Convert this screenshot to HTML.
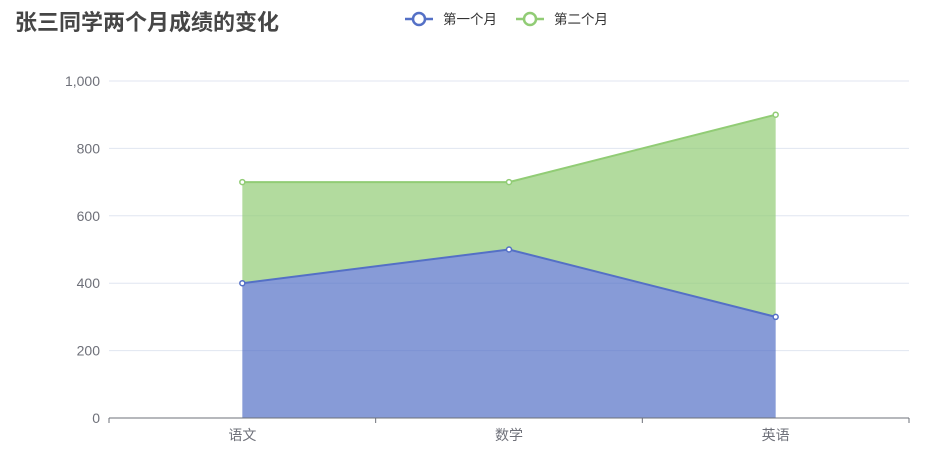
<!DOCTYPE html>
<html><head><meta charset="utf-8">
<style>
body{margin:0;background:#fff;}
svg text{font-family:"Liberation Sans","Noto Sans CJK SC",sans-serif;}
</style></head>
<body>
<svg id="c" width="947" height="460" xmlns="http://www.w3.org/2000/svg">
<text x="15" y="30" font-size="22" font-weight="bold" fill="#464646">张三同学两个月成绩的变化</text>
<g>
<g>
<line x1="405" y1="19" x2="433" y2="19" stroke="#5470c6" stroke-width="2.5"/>
<circle cx="419" cy="19" r="6" fill="#fff" stroke="#5470c6" stroke-width="2.5"/>
<text x="443" y="24" font-size="13.5" fill="#333">第一个月</text></g>
<g>
<line x1="516" y1="19" x2="544" y2="19" stroke="#91cc75" stroke-width="2.5"/>
<circle cx="530" cy="19" r="6" fill="#fff" stroke="#91cc75" stroke-width="2.5"/>
<text x="554" y="24" font-size="13.5" fill="#333">第二个月</text></g>
</g>
<g id="grid"></g>
<g id="areas"></g>
<g id="axes"></g>
</svg>
<script>
const categories=["语文","数学","英语"];
const month1=[400,500,300];
const month2=[300,200,600];
const yTicks=[0,200,400,600,800,1000];
const yTickLabels=["0","200","400","600","800","1,000"];

const NS="http://www.w3.org/2000/svg";
const L=109,R=909,T=81,B=418,yMax=1000;
const band=(R-L)/categories.length;
const x=i=>L+band*(i+0.5);
const y=v=>B-(v/yMax)*(B-T);
function mk(tag,attrs,parent){const e=document.createElementNS(NS,tag);for(const k in attrs)e.setAttribute(k,attrs[k]);parent.appendChild(e);return e;}
const grid=document.getElementById('grid'),areas=document.getElementById('areas'),axes=document.getElementById('axes');
yTicks.forEach((t,i)=>{
  if(t>0){const g=mk('line',{x1:L,x2:R,y1:y(t),y2:y(t),stroke:'#e0e6f1'},grid);
  
  }
  const lb=mk('text',{x:L-9,y:y(t)+5,'font-size':14,fill:'#6e7079','text-anchor':'end'},axes);
  lb.textContent=yTickLabels[i];
  
  
});
const s1=month1.slice(), s2=month1.map((v,i)=>v+month2[i]);
function pts(arr){return arr.map((v,i)=>x(i)+','+y(v)).join(' ');}
const base=categories.map((_,i)=>x(i)+','+y(0)).reverse().join(' ');
const a1=mk('polygon',{points:pts(s1)+' '+base,fill:'#5470c6','fill-opacity':0.7},areas);


const a2=mk('polygon',{points:pts(s2)+' '+s1.map((v,i)=>x(i)+','+y(v)).reverse().join(' '),fill:'#91cc75','fill-opacity':0.7},areas);


[[s1,'#5470c6','month1'],[s2,'#91cc75','month2']].forEach(([s,c,n])=>{
  const pl=mk('polyline',{points:pts(s),fill:'none',stroke:c,'stroke-width':2},areas);
  
  
  s.forEach((v,i)=>{const p=mk('circle',{cx:x(i),cy:y(v),r:2.5,fill:'#fff',stroke:c,'stroke-width':1.5},areas);
  
  });
});
const ax=mk('line',{x1:L,x2:R,y1:B,y2:B,stroke:'#6e7079'},axes);


for(let i=0;i<=categories.length;i++){const tk=mk('line',{x1:L+band*i,x2:L+band*i,y1:B,y2:B+5,stroke:'#6e7079'},axes);

}
categories.forEach((c,i)=>{const t=mk('text',{x:x(i),y:B+22,'font-size':14,fill:'#6e7079','text-anchor':'middle'},axes);
t.textContent=c;

});
</script>
</body></html>
